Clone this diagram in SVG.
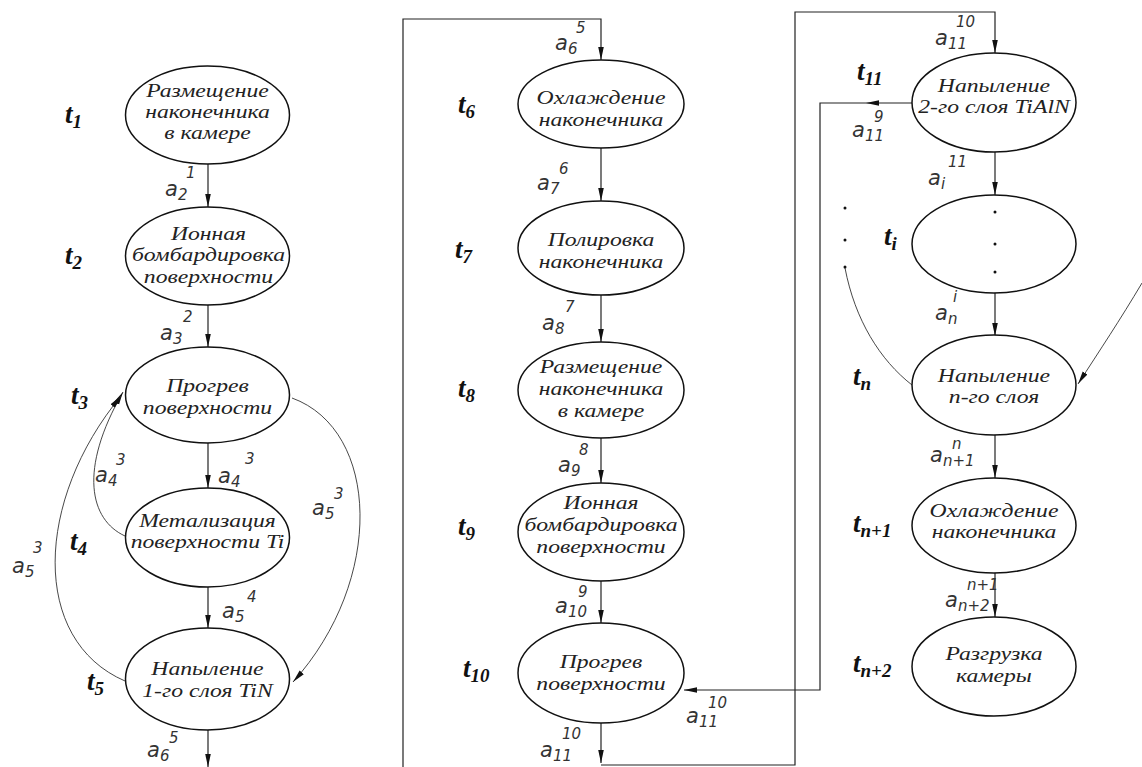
<svg xmlns="http://www.w3.org/2000/svg" width="1142" height="767" viewBox="0 0 1142 767">
<style>
.n{fill:#fff;stroke:#111;stroke-width:1.5}
.lbl{font-family:"Liberation Serif",serif;font-style:italic;font-size:18.5px;fill:#222;text-anchor:middle}
.t{font-family:"Liberation Serif",serif;font-style:italic;font-weight:bold;font-size:27px;fill:#111}
.ts{font-size:19px}
.a{font-family:"DejaVu Sans",sans-serif;font-style:italic;font-size:21px;fill:#333}
.as{font-size:15px}
.e{fill:none;stroke:#222;stroke-width:1.2}
.c{fill:none;stroke:#333;stroke-width:0.9}
.dot{fill:#111}
</style>
<defs>
<marker id="ar" markerUnits="userSpaceOnUse" markerWidth="14" markerHeight="8" refX="13" refY="4" orient="auto">
<path d="M0,1.2 L13,4 L0,6.8 Z" fill="#111"/>
</marker>
</defs>
<rect width="1142" height="767" fill="#fff"/>

<g id="connectors">
<path class="e" d="M208,164 V207" marker-end="url(#ar)"/>
<path class="e" d="M208,305 V347" marker-end="url(#ar)"/>
<path class="e" d="M208,443 V488" marker-end="url(#ar)"/>
<path class="e" d="M208,587 V628" marker-end="url(#ar)"/>
<path class="e" d="M208,730 V767" marker-end="url(#ar)"/>
<path class="c" d="M125,536 C90,520 78,470 123,392" marker-end="url(#ar)"/>
<path class="c" d="M125,681 C30,640 35,500 121,396" marker-end="url(#ar)"/>
<path class="c" d="M292,398 C380,430 385,580 293,682" marker-end="url(#ar)"/>

<path class="e" d="M403,767 V19 H601 V60" marker-end="url(#ar)"/>
<path class="e" d="M601,148 V201" marker-end="url(#ar)"/>
<path class="e" d="M601,295 V342" marker-end="url(#ar)"/>
<path class="e" d="M601,438 V483" marker-end="url(#ar)"/>
<path class="e" d="M601,581 V623" marker-end="url(#ar)"/>
<path class="e" d="M601,723 V763" marker-end="url(#ar)"/>
<path class="e" d="M601,765 H795 V12 H995 V53" marker-end="url(#ar)"/>
<path class="e" d="M913,103 H866" marker-end="url(#ar)"/>
<path class="e" d="M866,103 H820 V690 H684" marker-end="url(#ar)"/>

<path class="e" d="M995,152 V195" marker-end="url(#ar)"/>
<path class="e" d="M995,293 V336" marker-end="url(#ar)"/>
<path class="e" d="M995,435 V478" marker-end="url(#ar)"/>
<path class="e" d="M995,573 V617" marker-end="url(#ar)"/>
<path class="c" d="M912,385 C880,360 855,320 845,268"/>
<path class="c" d="M1142,283 C1120,320 1100,350 1078,384" marker-end="url(#ar)"/>
</g>

<g id="t1"><ellipse class="n" cx="207.5" cy="115" rx="82" ry="49"/>
<g transform="translate(207.5,0) scale(1.28,1)"><text class="lbl" x="0" y="97">Размещение</text><text class="lbl" x="0" y="118">наконечника</text><text class="lbl" x="0" y="139">в камере</text></g></g>
<g id="t2"><ellipse class="n" cx="207.5" cy="256" rx="82" ry="49"/>
<g transform="translate(208.5,0) scale(1.28,1)"><text class="lbl" x="0" y="240">Ионная</text><text class="lbl" x="0" y="261">бомбардировка</text><text class="lbl" x="0" y="283">поверхности</text></g></g>
<g id="t3"><ellipse class="n" cx="207.5" cy="395" rx="82" ry="48"/>
<g transform="translate(207.5,0) scale(1.28,1)"><text class="lbl" x="0" y="392">Прогрев</text><text class="lbl" x="0" y="414">поверхности</text></g></g>
<g id="t4"><ellipse class="n" cx="207.5" cy="537.5" rx="82" ry="49.5"/>
<g transform="translate(207.5,0) scale(1.28,1)"><text class="lbl" x="0" y="527">Метализация</text><text class="lbl" x="0" y="548">поверхности Ti</text></g></g>
<g id="t5"><ellipse class="n" cx="207.5" cy="679" rx="82" ry="51"/>
<g transform="translate(207.5,0) scale(1.28,1)"><text class="lbl" x="0" y="675">Напыление</text><text class="lbl" x="0" y="697">1-го слоя TiN</text></g></g>

<g id="t6"><ellipse class="n" cx="601" cy="104" rx="83" ry="44"/>
<g transform="translate(601,0) scale(1.28,1)"><text class="lbl" x="0" y="104">Охлаждение</text><text class="lbl" x="0" y="126">наконечника</text></g></g>
<g id="t7"><ellipse class="n" cx="601" cy="248" rx="83" ry="47"/>
<g transform="translate(601,0) scale(1.28,1)"><text class="lbl" x="0" y="246">Полировка</text><text class="lbl" x="0" y="268">наконечника</text></g></g>
<g id="t8"><ellipse class="n" cx="601" cy="390" rx="83" ry="48"/>
<g transform="translate(601,0) scale(1.28,1)"><text class="lbl" x="0" y="373">Размещение</text><text class="lbl" x="0" y="395">наконечника</text><text class="lbl" x="0" y="417">в камере</text></g></g>
<g id="t9"><ellipse class="n" cx="601" cy="532" rx="83" ry="49"/>
<g transform="translate(601,0) scale(1.28,1)"><text class="lbl" x="0" y="509">Ионная</text><text class="lbl" x="0" y="531">бомбардировка</text><text class="lbl" x="0" y="553">поверхности</text></g></g>
<g id="t10"><ellipse class="n" cx="601" cy="673" rx="83" ry="50"/>
<g transform="translate(601,0) scale(1.28,1)"><text class="lbl" x="0" y="668">Прогрев</text><text class="lbl" x="0" y="690">поверхности</text></g></g>

<g id="t11"><ellipse class="n" cx="994" cy="102.5" rx="82" ry="49.5"/>
<g transform="translate(994,0) scale(1.28,1)"><text class="lbl" x="0" y="92">Напыление</text><text class="lbl" x="0" y="113">2-го слоя TiAlN</text></g></g>
<g id="ti"><ellipse class="n" cx="994" cy="244" rx="82" ry="49"/></g>
<g id="tn"><ellipse class="n" cx="994" cy="385" rx="82" ry="50"/>
<g transform="translate(994,0) scale(1.28,1)"><text class="lbl" x="0" y="382">Напыление</text><text class="lbl" x="0" y="403">n-го слоя</text></g></g>
<g id="tn1"><ellipse class="n" cx="994" cy="525.5" rx="82" ry="47.5"/>
<g transform="translate(994,0) scale(1.28,1)"><text class="lbl" x="0" y="517">Охлаждение</text><text class="lbl" x="0" y="538">наконечника</text></g></g>
<g id="tn2"><ellipse class="n" cx="994" cy="666.5" rx="82" ry="49.5"/>
<g transform="translate(994,0) scale(1.28,1)"><text class="lbl" x="0" y="660">Разгрузка</text><text class="lbl" x="0" y="682">камеры</text></g></g>

<g id="dots">
<circle class="dot" cx="845" cy="208" r="1.5"/>
<circle class="dot" cx="845" cy="240" r="1.5"/>
<circle class="dot" cx="845" cy="267" r="1.5"/>
<circle class="dot" cx="995" cy="212" r="1.5"/>
<circle class="dot" cx="995" cy="244" r="1.5"/>
<circle class="dot" cx="995" cy="272" r="1.5"/>
</g>

<g id="time-labels">
<text class="t" x="65" y="123">t<tspan class="ts" dy="5">1</tspan></text>
<text class="t" x="65" y="264">t<tspan class="ts" dy="5">2</tspan></text>
<text class="t" x="71" y="404">t<tspan class="ts" dy="5">3</tspan></text>
<text class="t" x="70" y="550">t<tspan class="ts" dy="5">4</tspan></text>
<text class="t" x="87" y="690">t<tspan class="ts" dy="5">5</tspan></text>
<text class="t" x="458" y="113">t<tspan class="ts" dy="5">6</tspan></text>
<text class="t" x="455" y="258">t<tspan class="ts" dy="5">7</tspan></text>
<text class="t" x="458" y="397">t<tspan class="ts" dy="5">8</tspan></text>
<text class="t" x="458" y="535">t<tspan class="ts" dy="5">9</tspan></text>
<text class="t" x="463" y="677">t<tspan class="ts" dy="5">10</tspan></text>
<text class="t" x="857" y="80">t<tspan class="ts" dy="5">11</tspan></text>
<text class="t" x="884" y="245">t<tspan class="ts" dy="5">i</tspan></text>
<text class="t" x="853" y="385">t<tspan class="ts" dy="5">n</tspan></text>
<text class="t" x="853" y="532">t<tspan class="ts" dy="5">n+1</tspan></text>
<text class="t" x="853" y="672">t<tspan class="ts" dy="5">n+2</tspan></text>
</g>

<g id="edge-labels">
<text class="a" x="165" y="196">a<tspan class="as" x="178" y="200">2</tspan><tspan class="as" x="186" y="178">1</tspan></text>
<text class="a" x="160" y="340">a<tspan class="as" x="173" y="344">3</tspan><tspan class="as" x="183" y="322">2</tspan></text>
<text class="a" x="218" y="483">a<tspan class="as" x="231" y="487">4</tspan><tspan class="as" x="245" y="464">3</tspan></text>
<text class="a" x="95" y="482">a<tspan class="as" x="108" y="486">4</tspan><tspan class="as" x="116" y="465">3</tspan></text>
<text class="a" x="312" y="515">a<tspan class="as" x="325" y="519">5</tspan><tspan class="as" x="334" y="499">3</tspan></text>
<text class="a" x="12" y="573">a<tspan class="as" x="25" y="577">5</tspan><tspan class="as" x="33" y="553">3</tspan></text>
<text class="a" x="222" y="618">a<tspan class="as" x="235" y="622">5</tspan><tspan class="as" x="247" y="602">4</tspan></text>
<text class="a" x="147" y="757">a<tspan class="as" x="160" y="761">6</tspan><tspan class="as" x="169" y="743">5</tspan></text>

<text class="a" x="555" y="50">a<tspan class="as" x="568" y="54">6</tspan><tspan class="as" x="576" y="33">5</tspan></text>
<text class="a" x="537" y="190">a<tspan class="as" x="550" y="194">7</tspan><tspan class="as" x="559" y="174">6</tspan></text>
<text class="a" x="542" y="330">a<tspan class="as" x="555" y="334">8</tspan><tspan class="as" x="565" y="312">7</tspan></text>
<text class="a" x="558" y="472">a<tspan class="as" x="571" y="476">9</tspan><tspan class="as" x="579" y="455">8</tspan></text>
<text class="a" x="555" y="613">a<tspan class="as" x="568" y="617">10</tspan><tspan class="as" x="578" y="597">9</tspan></text>
<text class="a" x="686" y="723">a<tspan class="as" x="699" y="727">11</tspan><tspan class="as" x="708" y="708">10</tspan></text>
<text class="a" x="540" y="757">a<tspan class="as" x="553" y="761">11</tspan><tspan class="as" x="562" y="739">10</tspan></text>

<text class="a" x="935" y="45">a<tspan class="as" x="948" y="49">11</tspan><tspan class="as" x="956" y="27">10</tspan></text>
<text class="a" x="852" y="137">a<tspan class="as" x="865" y="141">11</tspan><tspan class="as" x="874" y="122">9</tspan></text>
<text class="a" x="928" y="185">a<tspan class="as" x="941" y="189">i</tspan><tspan class="as" x="948" y="167">11</tspan></text>
<text class="a" x="935" y="320">a<tspan class="as" x="948" y="324">n</tspan><tspan class="as" x="953" y="302">i</tspan></text>
<text class="a" x="930" y="462">a<tspan class="as" x="943" y="466">n+1</tspan><tspan class="as" x="952" y="449">n</tspan></text>
<text class="a" x="945" y="607">a<tspan class="as" x="958" y="611">n+2</tspan><tspan class="as" x="967" y="590">n+1</tspan></text>
</g>
</svg>
